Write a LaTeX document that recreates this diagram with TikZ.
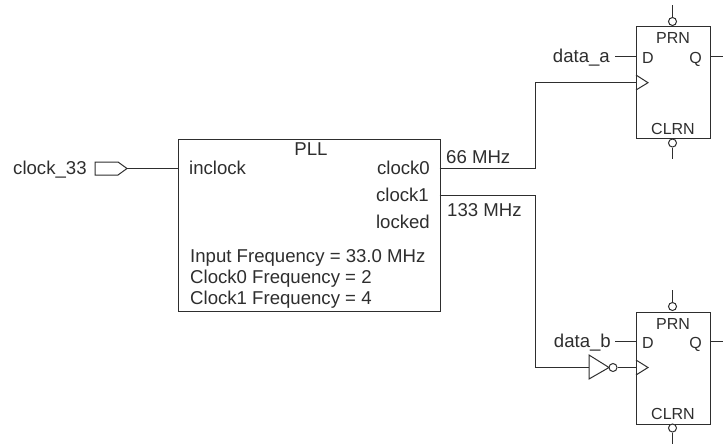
\documentclass[tikz,border=0pt]{standalone}
\usepackage{fontspec}
\setmainfont{Liberation Sans}
\definecolor{ink}{HTML}{2E2E2E}
\tikzset{
  wire/.style={draw=ink,line width=1pt},
  box/.style={draw=ink,line width=1pt,inner sep=0pt,fill=white},
  bub/.style={circle,draw=ink,line width=1pt,minimum size=8pt,inner sep=0pt,fill=white},
  lab/.style={text=ink,inner sep=0pt,font=\fontsize{18.6}{22}\selectfont},
  small/.style={text=ink,inner sep=0pt,font=\fontsize{16}{18}\selectfont},
  port/.style={draw=ink,line width=1pt,line join=miter,fill=white}
}
\begin{document}
\begin{tikzpicture}[x=1pt,y=-1pt]
\useasboundingbox (0,0) rectangle (723,445);
% PLL
\node[box,anchor=north west,minimum width=261.5pt,minimum height=172pt] (pll) at (178,138.5) {};
\node[lab,anchor=base] (plltitle) at (311,155) {PLL};
\node[lab,anchor=base west] (inclock) at (189,174) {inclock};
\node[lab,anchor=base east] (clock0) at (430,174) {clock0};
\node[lab,anchor=base east] (clock1) at (429,201) {clock1};
\node[lab,anchor=base east] (locked) at (430,228) {locked};
\node[lab,anchor=base west] (f1) at (190,262.7) {Input Frequency = 33.0 MHz};
\node[lab,anchor=base west] (f2) at (190,283.7) {Clock0 Frequency = 2};
\node[lab,anchor=base west] (f3) at (190,304.7) {Clock1 Frequency = 4};
\node[lab,anchor=base west] (m66) at (446,163) {66 MHz};
\node[lab,anchor=base west] (m133) at (447,216) {133 MHz};
% input pin
\node[lab,anchor=base west] (clk33) at (13,174) {clock\_33};
\coordinate (pinE) at (127,168.5);
\draw[port] (95,162) -- (118,162) -- (pinE) -- (118,175) -- (95,175) -- cycle;
\coordinate (pllW) at (178,168.5);
\draw[wire] (pinE) -- (pllW);
% FF A
\node[box,anchor=north west,minimum width=74pt,minimum height=112pt] (ffa) at (636,26) {};
\node[small,anchor=base] (prna) at (673,43) {PRN};
\node[small,anchor=base] (clrna) at (673,134) {CLRN};
\node[small,anchor=base west] (da) at (642,63) {D};
\node[small,anchor=base east] (qa) at (702,63) {Q};
\node[lab,anchor=base east] (dataa) at (610,62) {data\_a};
\node[bub] (pba) at (672.5,21.5) {};
\node[bub] (cba) at (672.5,143) {};
\coordinate (pta) at (672.5,5);
\coordinate (cta) at (672.5,159);
\draw[wire] (pta) -- (pba);
\draw[wire] (cba) -- (cta);
\coordinate (dawest) at (615,56.5);
\coordinate (daeast) at (636,56.5);
\coordinate (qaw) at (710,56.5);
\coordinate (qae) at (723,56.5);
\draw[wire] (dawest) -- (daeast);
\draw[wire] (qaw) -- (qae);
\coordinate (cka) at (636,82.7);
\draw[wire,line join=miter] (636,75) -- (648,82.7) -- (636,90);
% FF B
\node[box,anchor=north west,minimum width=74pt,minimum height=112pt] (ffb) at (636,311.5) {};
\node[small,anchor=base] (prnb) at (673,329) {PRN};
\node[small,anchor=base] (clrnb) at (673,419) {CLRN};
\node[small,anchor=base west] (db) at (642,348) {D};
\node[small,anchor=base east] (qb) at (702,348) {Q};
\node[lab,anchor=base east] (datab) at (611,347) {data\_b};
\node[bub] (pbb) at (672.5,306.5) {};
\node[bub] (cbb) at (672.5,428) {};
\coordinate (ptb) at (672.5,290);
\coordinate (ctb) at (672.5,444);
\draw[wire] (ptb) -- (pbb);
\draw[wire] (cbb) -- (ctb);
\coordinate (dbwest) at (615,341.5);
\coordinate (dbeast) at (636,341.5);
\coordinate (qbw) at (710,341.5);
\coordinate (qbe) at (723,341.5);
\draw[wire] (dbwest) -- (dbeast);
\draw[wire] (qbw) -- (qbe);
\coordinate (ckb) at (636,367.5);
\draw[wire,line join=miter] (636,360) -- (648,367.5) -- (636,375);
% clock wires
\coordinate (pllc0) at (439.5,168.5);
\coordinate (pllc1) at (439.5,195.5);
\coordinate (inv) at (589,367.5);
\draw[wire,line join=miter] (pllc0) -- (535,168.5) -- (535,82.7) -- (cka);
\draw[wire,line join=miter] (pllc1) -- (535,195.5) -- (535,367.5) -- (inv);
% inverter
\draw[port] (inv |- 0,355) -- (609,367.5) -- (inv |- 0,379) -- cycle;
\node[bub] (invb) at (613,367.5) {};
\draw[wire] (invb) -- (ckb);
\end{tikzpicture}
\end{document}
